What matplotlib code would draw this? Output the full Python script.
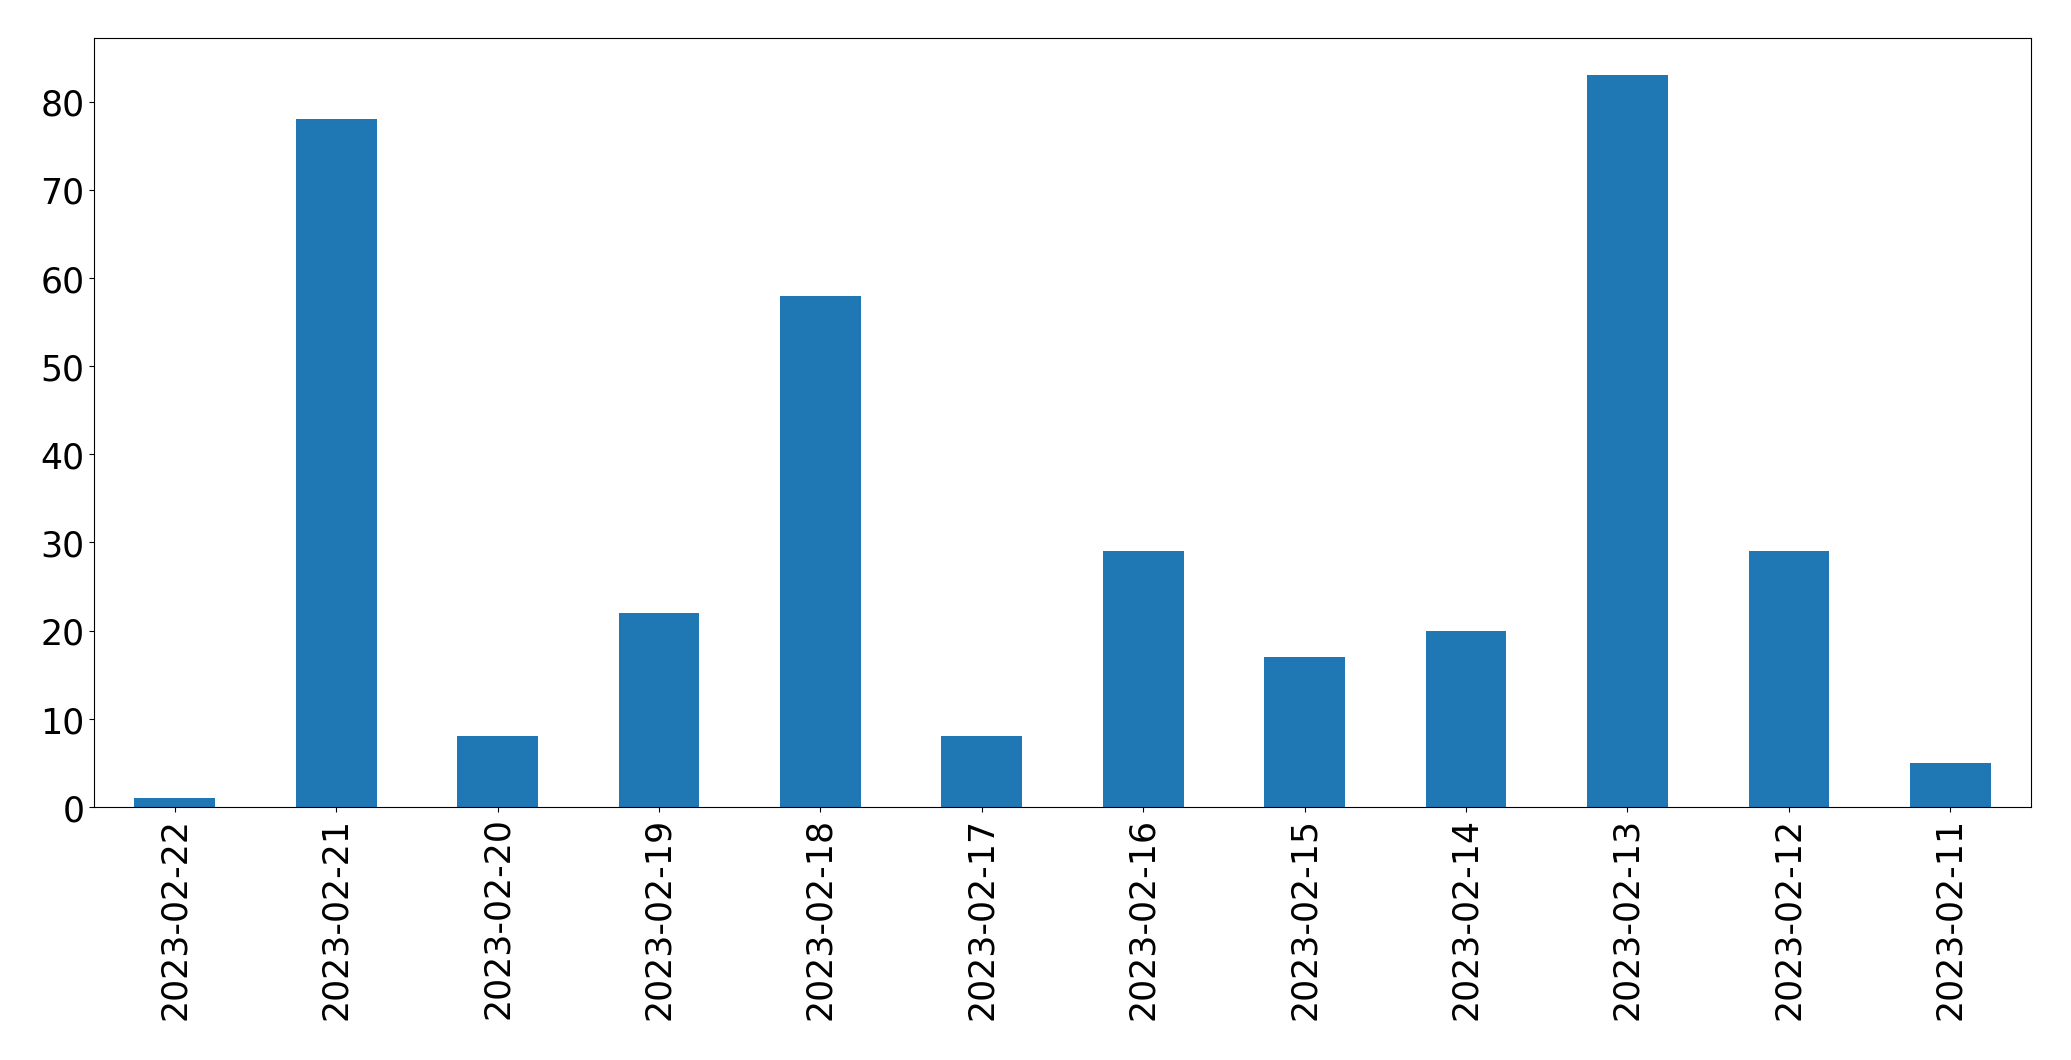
import pandas as pd
import matplotlib.pyplot as plt

dates = ['2023-02-22', '2023-02-21', '2023-02-20', '2023-02-19', '2023-02-18', '2023-02-17',
         '2023-02-16', '2023-02-15', '2023-02-14', '2023-02-13', '2023-02-12', '2023-02-11']
counts = [1, 78, 8, 22, 58, 8, 29, 17, 20, 83, 29, 5]

plt.rcParams['font.size'] = 25

s = pd.Series(counts, index=dates)
fig = plt.figure(figsize=(20.71, 10.608), dpi=100)
ax = fig.add_axes([0.0454, 0.2385, 0.9353, 0.7245])
s.plot(kind='bar', ax=ax, color='#1f77b4')
ax.set_yticks(range(0, 90, 10))
fig.savefig('out.png', dpi=100)
